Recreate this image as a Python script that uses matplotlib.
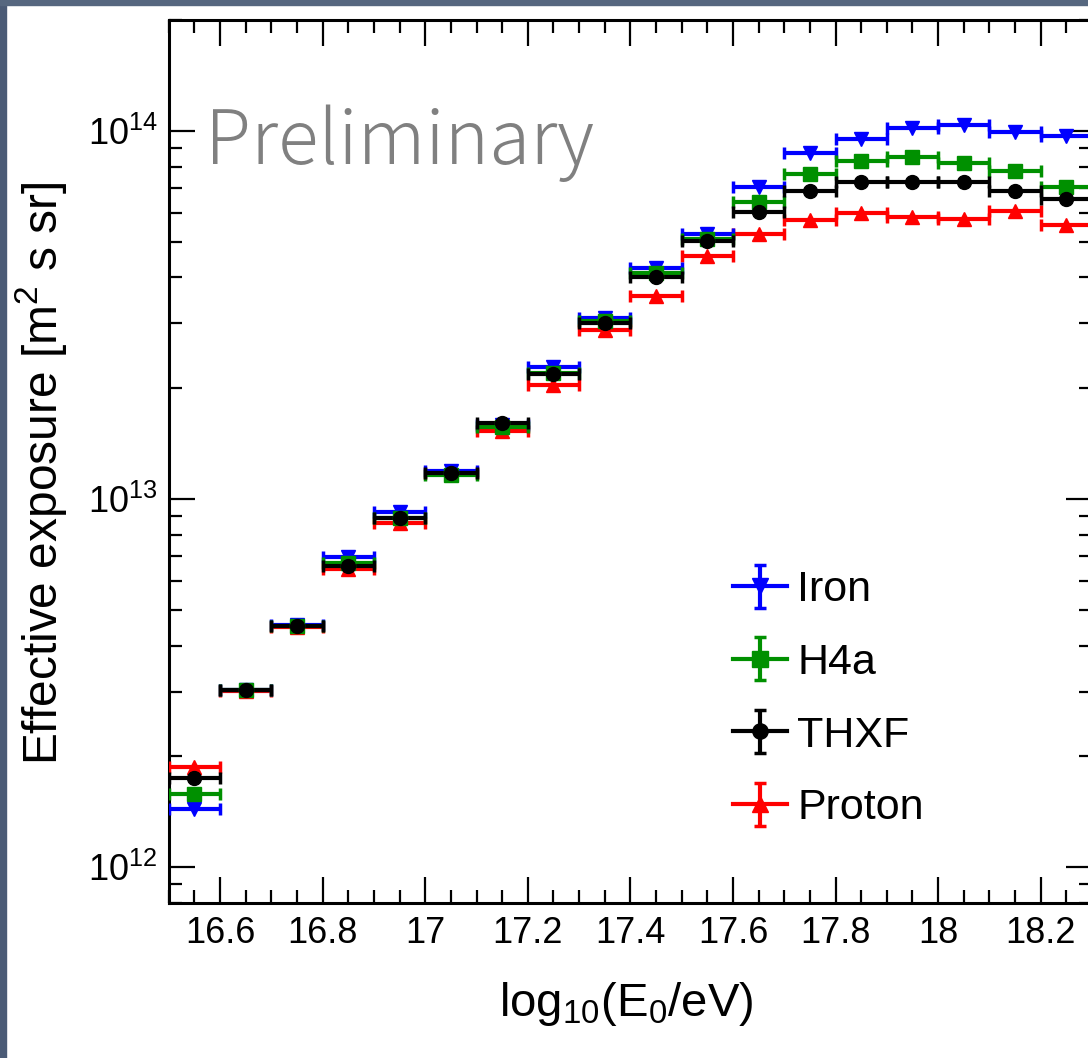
import numpy as np
import matplotlib
matplotlib.use("Agg")
import matplotlib.pyplot as plt
from matplotlib.ticker import MultipleLocator, LogLocator, NullFormatter, FuncFormatter
from matplotlib.patches import Rectangle

plt.rcParams['font.family'] = ['Liberation Sans', 'DejaVu Sans']
plt.rcParams['mathtext.fontset'] = 'custom'
plt.rcParams['mathtext.rm'] = 'Liberation Sans'
plt.rcParams['mathtext.it'] = 'Liberation Sans:italic'
plt.rcParams['mathtext.bf'] = 'Liberation Sans:bold'

# bin centres in log10(E0/eV), half width 0.05
log_energy = [16.55, 16.65, 16.75, 16.85, 16.95, 17.05, 17.15, 17.25, 17.35,
              17.45, 17.55, 17.65, 17.75, 17.85, 17.95, 18.05, 18.15, 18.25]
bin_half_width = 0.05

# effective exposure [m^2 s sr]
iron = [1.44e12, 3.04e12, 4.55e12, 6.96e12, 9.22e12, 1.19e13, 1.59e13, 2.28e13, 3.10e13,
        4.23e13, 5.26e13, 7.05e13, 8.68e13, 9.49e13, 1.02e14, 1.038e14, 9.90e13, 9.69e13]
h4a = [1.58e12, 3.03e12, 4.53e12, 6.71e12, 8.90e12, 1.16e13, 1.57e13, 2.20e13, 3.05e13,
       4.10e13, 5.10e13, 6.42e13, 7.63e13, 8.29e13, 8.47e13, 8.20e13, 7.76e13, 7.05e13]
thxf = [1.75e12, 3.04e12, 4.53e12, 6.58e12, 8.88e12, 1.18e13, 1.61e13, 2.18e13, 3.00e13,
        4.00e13, 5.03e13, 6.01e13, 6.85e13, 7.24e13, 7.27e13, 7.27e13, 6.85e13, 6.55e13]
proton = [1.87e12, 3.02e12, 4.48e12, 6.46e12, 8.61e12, 1.18e13, 1.53e13, 2.04e13, 2.87e13,
          3.55e13, 4.56e13, 5.26e13, 5.74e13, 5.98e13, 5.82e13, 5.76e13, 6.04e13, 5.56e13]

series = [
    ("Proton", proton, "#ff0000", "^"),
    ("Iron", iron, "#0000ff", "v"),
    ("H4a", h4a, "#009000", "s"),
    ("THXF", thxf, "#000000", "o"),
]
legend_order = ["Iron", "H4a", "THXF", "Proton"]

fig = plt.figure(figsize=(10.88, 10.58), dpi=100)
ax = fig.add_axes([0.1551, 0.1465, 0.8486, 0.8346])

handles = {}
for name, vals, col, mk in series:
    ax.errorbar(log_energy, vals, xerr=bin_half_width, fmt=mk, color=col,
                markersize=10, elinewidth=3, capsize=4.5, capthick=2.5, zorder=3)
    # proxy for the legend: line + marker + vertical error bar
    handles[name] = ax.errorbar([np.nan], [np.nan], yerr=[1.0], fmt='-', marker=mk,
                                color=col, markersize=11, linewidth=3, elinewidth=3,
                                capsize=4.5, capthick=2.5)

ax.set_yscale('log')
ax.set_xlim(16.5, 18.3)
ax.set_ylim(8e11, 2e14)

ax.xaxis.set_major_locator(MultipleLocator(0.2))
ax.xaxis.set_minor_locator(MultipleLocator(0.05))
ax.xaxis.set_major_formatter(FuncFormatter(lambda v, p: f"{round(v, 1):g}"))
ax.yaxis.set_major_locator(LogLocator(base=10, numticks=10))
ax.yaxis.set_minor_locator(LogLocator(base=10, subs=np.arange(2, 10), numticks=20))
ax.yaxis.set_minor_formatter(NullFormatter())

ax.tick_params(which='both', direction='in', top=True, right=True, width=1.6,
               labelsize=26, colors='black')
ax.tick_params(which='major', length=19)
ax.tick_params(which='minor', length=9.5)
ax.tick_params(axis='x', pad=9)
ax.tick_params(axis='y', pad=8)
for sp in ax.spines.values():
    sp.set_linewidth(2.2)

ax.set_ylabel(r"Effective exposure [m$^{2}$ s sr]", fontsize=34.5)
ax.yaxis.set_label_coords(-0.108, 0.486)
ax.set_xlabel(r"log$_{10}$(E$_{0}$/eV)", fontsize=34)
ax.xaxis.set_label_coords(0.4954, -0.087)
ax.xaxis.label.set_va('top')

ax.text(0.039, 0.837, "Preliminary", transform=ax.transAxes, fontsize=54,
        color='#808080', va='baseline', ha='left',
        family=['Noto Sans CJK JP', 'DejaVu Sans'], fontweight='light')

ax.legend([handles[n] for n in legend_order], legend_order, loc='upper left',
          bbox_to_anchor=(0.611, 0.377), frameon=False, fontsize=31,
          handlelength=1.25, handletextpad=0.25, labelspacing=0.76,
          borderpad=0, borderaxespad=0, numpoints=1)

# slide border
fig.add_artist(Rectangle((0, 0), 6 / 1088, 1, transform=fig.transFigure,
                         color='#4b5b76', zorder=10))
fig.add_artist(Rectangle((0, 1 - 5 / 1058), 1, 5 / 1058, transform=fig.transFigure,
                         color='#56677f', zorder=10))

fig.savefig("out.png", dpi=100)
